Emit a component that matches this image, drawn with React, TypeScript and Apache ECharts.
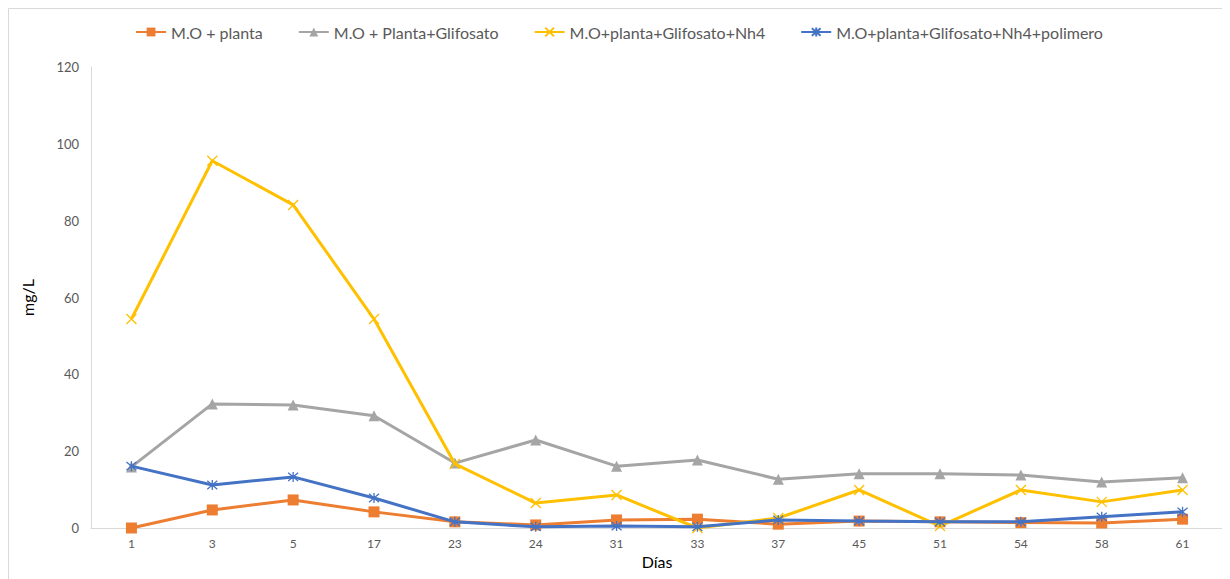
import React, { useEffect, useRef } from "react";
import * as echarts from "echarts";

const categories = ["1", "3", "5", "17", "23", "24", "31", "33", "37", "45", "51", "54", "58", "61"];
const seriesNames = [
  "M.O + planta",
  "M.O + Planta+Glifosato",
  "M.O+planta+Glifosato+Nh4",
  "M.O+planta+Glifosato+Nh4+polimero",
];
const moPlanta = [0, 4.7, 7.3, 4.2, 1.6, 0.8, 2.1, 2.3, 1.0, 1.8, 1.6, 1.4, 1.3, 2.3];
const moPlantaGlifosato = [15.9, 32.3, 32.0, 29.2, 16.9, 22.9, 16.1, 17.7, 12.7, 14.1, 14.1, 13.8, 12.0, 13.1];
const moPlantaGlifosatoNh4 = [54.4, 95.6, 84.1, 54.4, 16.7, 6.5, 8.6, 0, 2.6, 9.9, 0.5, 9.9, 6.8, 9.9];
const moPlantaGlifosatoNh4Polimero = [16.1, 11.2, 13.3, 7.8, 1.6, 0.3, 0.5, 0.3, 2.1, 1.8, 1.6, 1.6, 2.9, 4.2];
const yTicks = { min: 0, max: 120, interval: 20 };

const colors = ["#ED7D31", "#A5A5A5", "#FFC000", "#4472C4"];
const FONT = "Lato";

const xSymbol = "path://M0,0 L10,10 M10,0 L0,10";
const starSymbol = "path://M0,0 L10,10 M10,0 L0,10 M5,-1 L5,11";

export default function App() {
  const ref = useRef<HTMLDivElement>(null);
  useEffect(() => {
    if (!ref.current) return;
    const chart = echarts.init(ref.current, undefined, { renderer: "svg" });
    const data = [moPlanta, moPlantaGlifosato, moPlantaGlifosatoNh4, moPlantaGlifosatoNh4Polimero];
    const symbols = ["rect", "triangle", xSymbol, starSymbol];
    const sizes = [11, 11, 10, 10];
    chart.setOption({
      animation: false,
      backgroundColor: "#ffffff",
      textStyle: { fontFamily: FONT },
      graphic: [
        {
          type: "rect",
          shape: { x: 0.5, y: 0.5, width: 1300, height: 700 },
          style: { fill: "none", stroke: "#d9d9d9", lineWidth: 1 },
          silent: true,
        },
      ],
      legend: {
        top: 11,
        left: "center",
        itemWidth: 30,
        itemHeight: 11,
        itemGap: 35,
        textStyle: { color: "#595959", fontSize: 16, fontFamily: FONT },
        data: seriesNames,
      },
      grid: { left: 83, right: 7, top: 59, bottom: 51, containLabel: false },
      xAxis: {
        type: "category",
        data: categories,
        boundaryGap: true,
        name: "Días",
        nameLocation: "middle",
        nameGap: 22,
        nameTextStyle: { color: "#000000", fontSize: 16, fontFamily: FONT },
        axisLine: { lineStyle: { color: "#d9d9d9", width: 1 } },
        axisTick: { show: false },
        axisLabel: { color: "#595959", fontSize: 12, margin: 9, fontFamily: FONT },
        splitLine: { show: false },
      },
      yAxis: {
        type: "value",
        min: yTicks.min,
        max: yTicks.max,
        interval: yTicks.interval,
        name: "mg/L",
        nameLocation: "middle",
        nameGap: 56,
        nameRotate: 90,
        nameTextStyle: { color: "#000000", fontSize: 16, fontFamily: FONT },
        axisLine: { show: true, lineStyle: { color: "#d9d9d9", width: 1 } },
        axisTick: { show: false },
        axisLabel: { color: "#595959", fontSize: 13, margin: 12, fontFamily: FONT },
        splitLine: { show: false },
      },
      series: data.map((d, i) => ({
        name: seriesNames[i],
        type: "line",
        data: d,
        symbol: symbols[i],
        symbolSize: sizes[i],
        showSymbol: true,
        lineStyle: { color: colors[i], width: 3 },
        itemStyle:
          i >= 2
            ? { color: "rgba(0,0,0,0)", borderColor: colors[i], borderWidth: 1.3 }
            : { color: colors[i], borderColor: colors[i], borderWidth: 0 },
        emphasis: { disabled: true },
        z: 2 + i,
      })),
    });
    return () => chart.dispose();
  }, []);
  return <div ref={ref} style={{ width: 1222, height: 571 }} />;
}
